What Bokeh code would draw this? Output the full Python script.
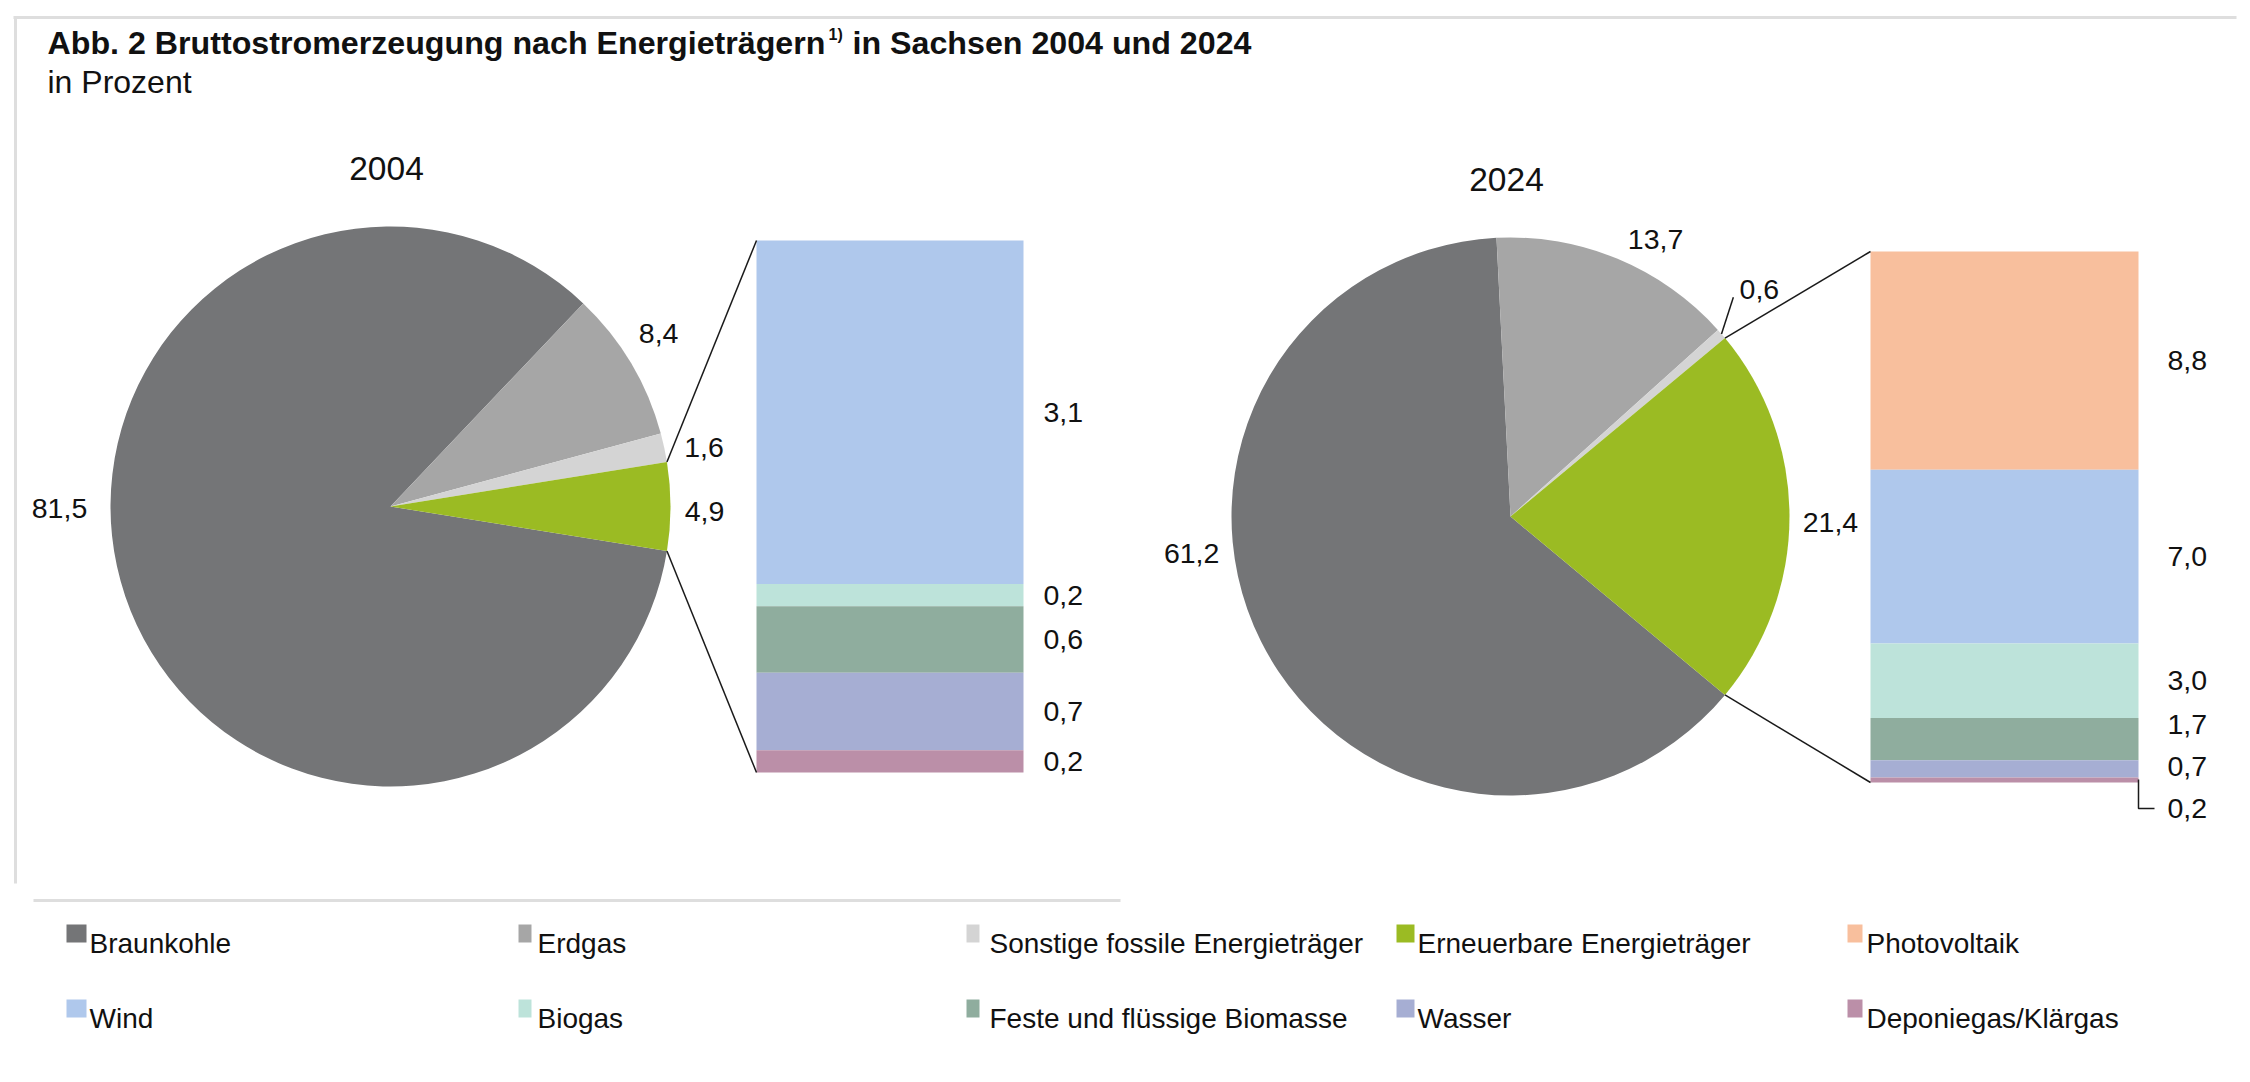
import math

from bokeh.core.properties import value
from bokeh.embed import file_html
from bokeh.models import Range1d
from bokeh.plotting import figure
from bokeh.resources import INLINE

# ---------------------------------------------------------------- data
main_categories = ["Braunkohle", "Erdgas", "Sonstige fossile Energieträger",
                   "Erneuerbare Energieträger"]
main_2004 = [81.5, 8.4, 1.6, 4.9]
main_2024 = [61.2, 13.7, 0.6, 21.4]

renew_categories = ["Photovoltaik", "Wind", "Biogas", "Feste und flüssige Biomasse",
                    "Wasser", "Deponiegas/Klärgas"]
renew_2004 = [0.0, 3.1, 0.2, 0.6, 0.7, 0.2]
renew_2024 = [8.8, 7.0, 3.0, 1.7, 0.7, 0.2]

years = ["2004", "2024"]

# ---------------------------------------------------------------- style
main_colors = ["#747577", "#a6a6a6", "#d4d4d4", "#9bbb23"]
renew_colors = ["#f8bf9d", "#afc8ec", "#bde3da", "#8fad9e", "#a6aed3", "#bb8fa8"]

W, H = 2250, 1082
FONT = value("Liberation Sans")
LINE = "#1a1a1a"
FRAME = "#dedede"


def Y(y):
    """page coordinate (top-down) -> plot coordinate (bottom-up)"""
    return H - y


def fmt(v):
    return f"{v:.1f}".replace(".", ",")


p = figure(width=W, height=H, x_range=Range1d(0, W), y_range=Range1d(0, H),
           x_axis_type=None, y_axis_type=None, toolbar_location=None,
           output_backend="svg", min_border=0, outline_line_color=None,
           background_fill_color="white", border_fill_color="white")
p.grid.visible = False

# frame lines
p.segment(x0=[13, 15, 33], y0=[Y(17), Y(17), Y(900)],
          x1=[2236, 15, 1120], y1=[Y(17), Y(883), Y(900)],
          line_color=FRAME, line_width=3)

# title
p.text(x=[47], y=[Y(42)], text=["Abb. 2 Bruttostromerzeugung nach Energieträgern"],
       text_font=FONT, text_font_style="bold", text_font_size="32.2px",
       text_baseline="middle", text_align="left", text_color="#111111")
p.text(x=[828], y=[Y(34)], text=["1)"], text_font=FONT, text_font_style="bold",
       text_font_size="16px", text_baseline="middle", text_color="#111111")
p.text(x=[852], y=[Y(42)], text=["in Sachsen 2004 und 2024"],
       text_font=FONT, text_font_style="bold", text_font_size="32.2px",
       text_baseline="middle", text_align="left", text_color="#111111")
p.text(x=[47], y=[Y(81)], text=["in Prozent"], text_font=FONT,
       text_font_size="32px", text_baseline="middle", text_color="#111111")


def draw_block(values, parts, year, cx, cy, r, label_pos, bar, leader_last=False,
               small_leader=None):
    total = sum(values)
    fr = [v / total for v in values]
    g = fr[3] * 2 * math.pi
    # slices counter-clockwise starting with the renewable slice centred on the right
    a = -g / 2
    starts, ends = {}, {}
    for i in [3, 2, 1, 0]:
        starts[i] = a
        a += fr[i] * 2 * math.pi
        ends[i] = a
    order = [0, 1, 2, 3]
    p.wedge(x=[cx] * 4, y=[Y(cy)] * 4, radius=r,
            start_angle=[starts[i] for i in order], end_angle=[ends[i] for i in order],
            fill_color=main_colors, line_color=None)

    # slice labels
    lx, ly = [], []
    for ang, d in label_pos:
        t = math.radians(ang)
        lx.append(cx + d * math.cos(t))
        ly.append(Y(cy) + d * math.sin(t))
    p.text(x=lx, y=ly, text=[fmt(v) for v in values], text_font=FONT,
           text_font_size="28.5px", text_align="center", text_baseline="middle",
           text_color="#111111")

    if small_leader is not None:
        i = 2
        mid = (starts[i] + ends[i]) / 2
        ex, ey = cx + r * math.cos(mid), Y(cy) + r * math.sin(mid)
        p.segment(x0=[ex], y0=[ey], x1=[lx[i] - 26], y1=[ly[i] - 8],
                  line_color=LINE, line_width=1.5)

    # year heading
    p.text(x=[cx - 4], y=[Y(cy) + r + 58], text=[year], text_font=FONT,
           text_font_size="33.5px", text_align="center", text_baseline="middle",
           text_color="#111111")

    # stacked bar of the renewable slice
    left, right, top, bottom = bar
    scale = (bottom - top) / sum(parts)
    segs = [(k, v) for k, v in enumerate(parts) if v > 0]
    y = top
    tops, bots, cols, mids = [], [], [], []
    for k, v in segs:
        tops.append(Y(y))
        y += v * scale
        bots.append(Y(y))
        cols.append(renew_colors[k])
        mids.append((tops[-1] + bots[-1]) / 2)
    p.quad(left=[left] * len(segs), right=[right] * len(segs), top=tops, bottom=bots,
           fill_color=cols, line_color=None)

    # bar labels, spread upwards where they would collide
    lab_y = list(mids)
    if leader_last:
        lab_y[-1] = bots[-1] - 26
        p.line(x=[right, right, right + 16], y=[bots[-1] + 3, lab_y[-1], lab_y[-1]],
               line_color=LINE, line_width=1.5)
    for j in range(len(lab_y) - 2, -1, -1):
        lab_y[j] = max(lab_y[j], lab_y[j + 1] + 42)
    p.text(x=[right + (29 if leader_last else 20)] * len(segs), y=lab_y,
           text=[fmt(v) for _, v in segs], text_font=FONT, text_font_size="28.5px",
           text_align="left", text_baseline="middle", text_color="#111111")

    # connector lines from the renewable slice to the bar
    ux, uy = cx + r * math.cos(g / 2), Y(cy) + r * math.sin(g / 2)
    dx, dy = cx + r * math.cos(-g / 2), Y(cy) + r * math.sin(-g / 2)
    p.segment(x0=[ux, dx], y0=[uy, dy], x1=[left, left], y1=[Y(top), Y(bottom)],
              line_color=LINE, line_width=1.5)


draw_block(main_2004, renew_2004, years[0], cx=390, cy=506, r=280,
           label_pos=[(180.3, 331), (32.8, 319), (10.6, 319), (-1.0, 314)],
           bar=(756, 1023, 240, 772))
draw_block(main_2024, renew_2024, years[1], cx=1510, cy=516, r=279,
           label_pos=[(186.6, 321), (62.4, 313), (42.4, 337), (-1.1, 320)],
           bar=(1870, 2138, 251, 782), leader_last=True, small_leader=True)

# legend
legend_names = [main_categories[0], main_categories[1], main_categories[2],
                main_categories[3], renew_categories[0],
                renew_categories[1], renew_categories[2], renew_categories[3],
                renew_categories[4], renew_categories[5]]
legend_cols = [main_colors[0], main_colors[1], main_colors[2], main_colors[3],
               renew_colors[0], renew_colors[1], renew_colors[2], renew_colors[3],
               renew_colors[4], renew_colors[5]]
col_x = [66, 518, 966, 1396, 1847]
col_w = [20, 13, 13, 18, 15]
col_tx = [89, 537, 989, 1417, 1866]
row_y = [933, 1008]
sq_l, sq_r, sq_t, sq_b, tx, ty = [], [], [], [], [], []
for n in range(len(legend_names)):
    c, rr = n % 5, n // 5
    sq_l.append(col_x[c])
    sq_r.append(col_x[c] + col_w[c])
    sq_t.append(Y(row_y[rr] - 9))
    sq_b.append(Y(row_y[rr] + 9))
    tx.append(col_tx[c])
    ty.append(Y(row_y[rr] + 10))
p.quad(left=sq_l, right=sq_r, top=sq_t, bottom=sq_b, fill_color=legend_cols,
       line_color=None)
p.text(x=tx, y=ty, text=legend_names, text_font=FONT, text_font_size="28px",
       text_align="left", text_baseline="alphabetic", text_color="#111111")

open("out.html", "w").write(file_html(p, INLINE))
